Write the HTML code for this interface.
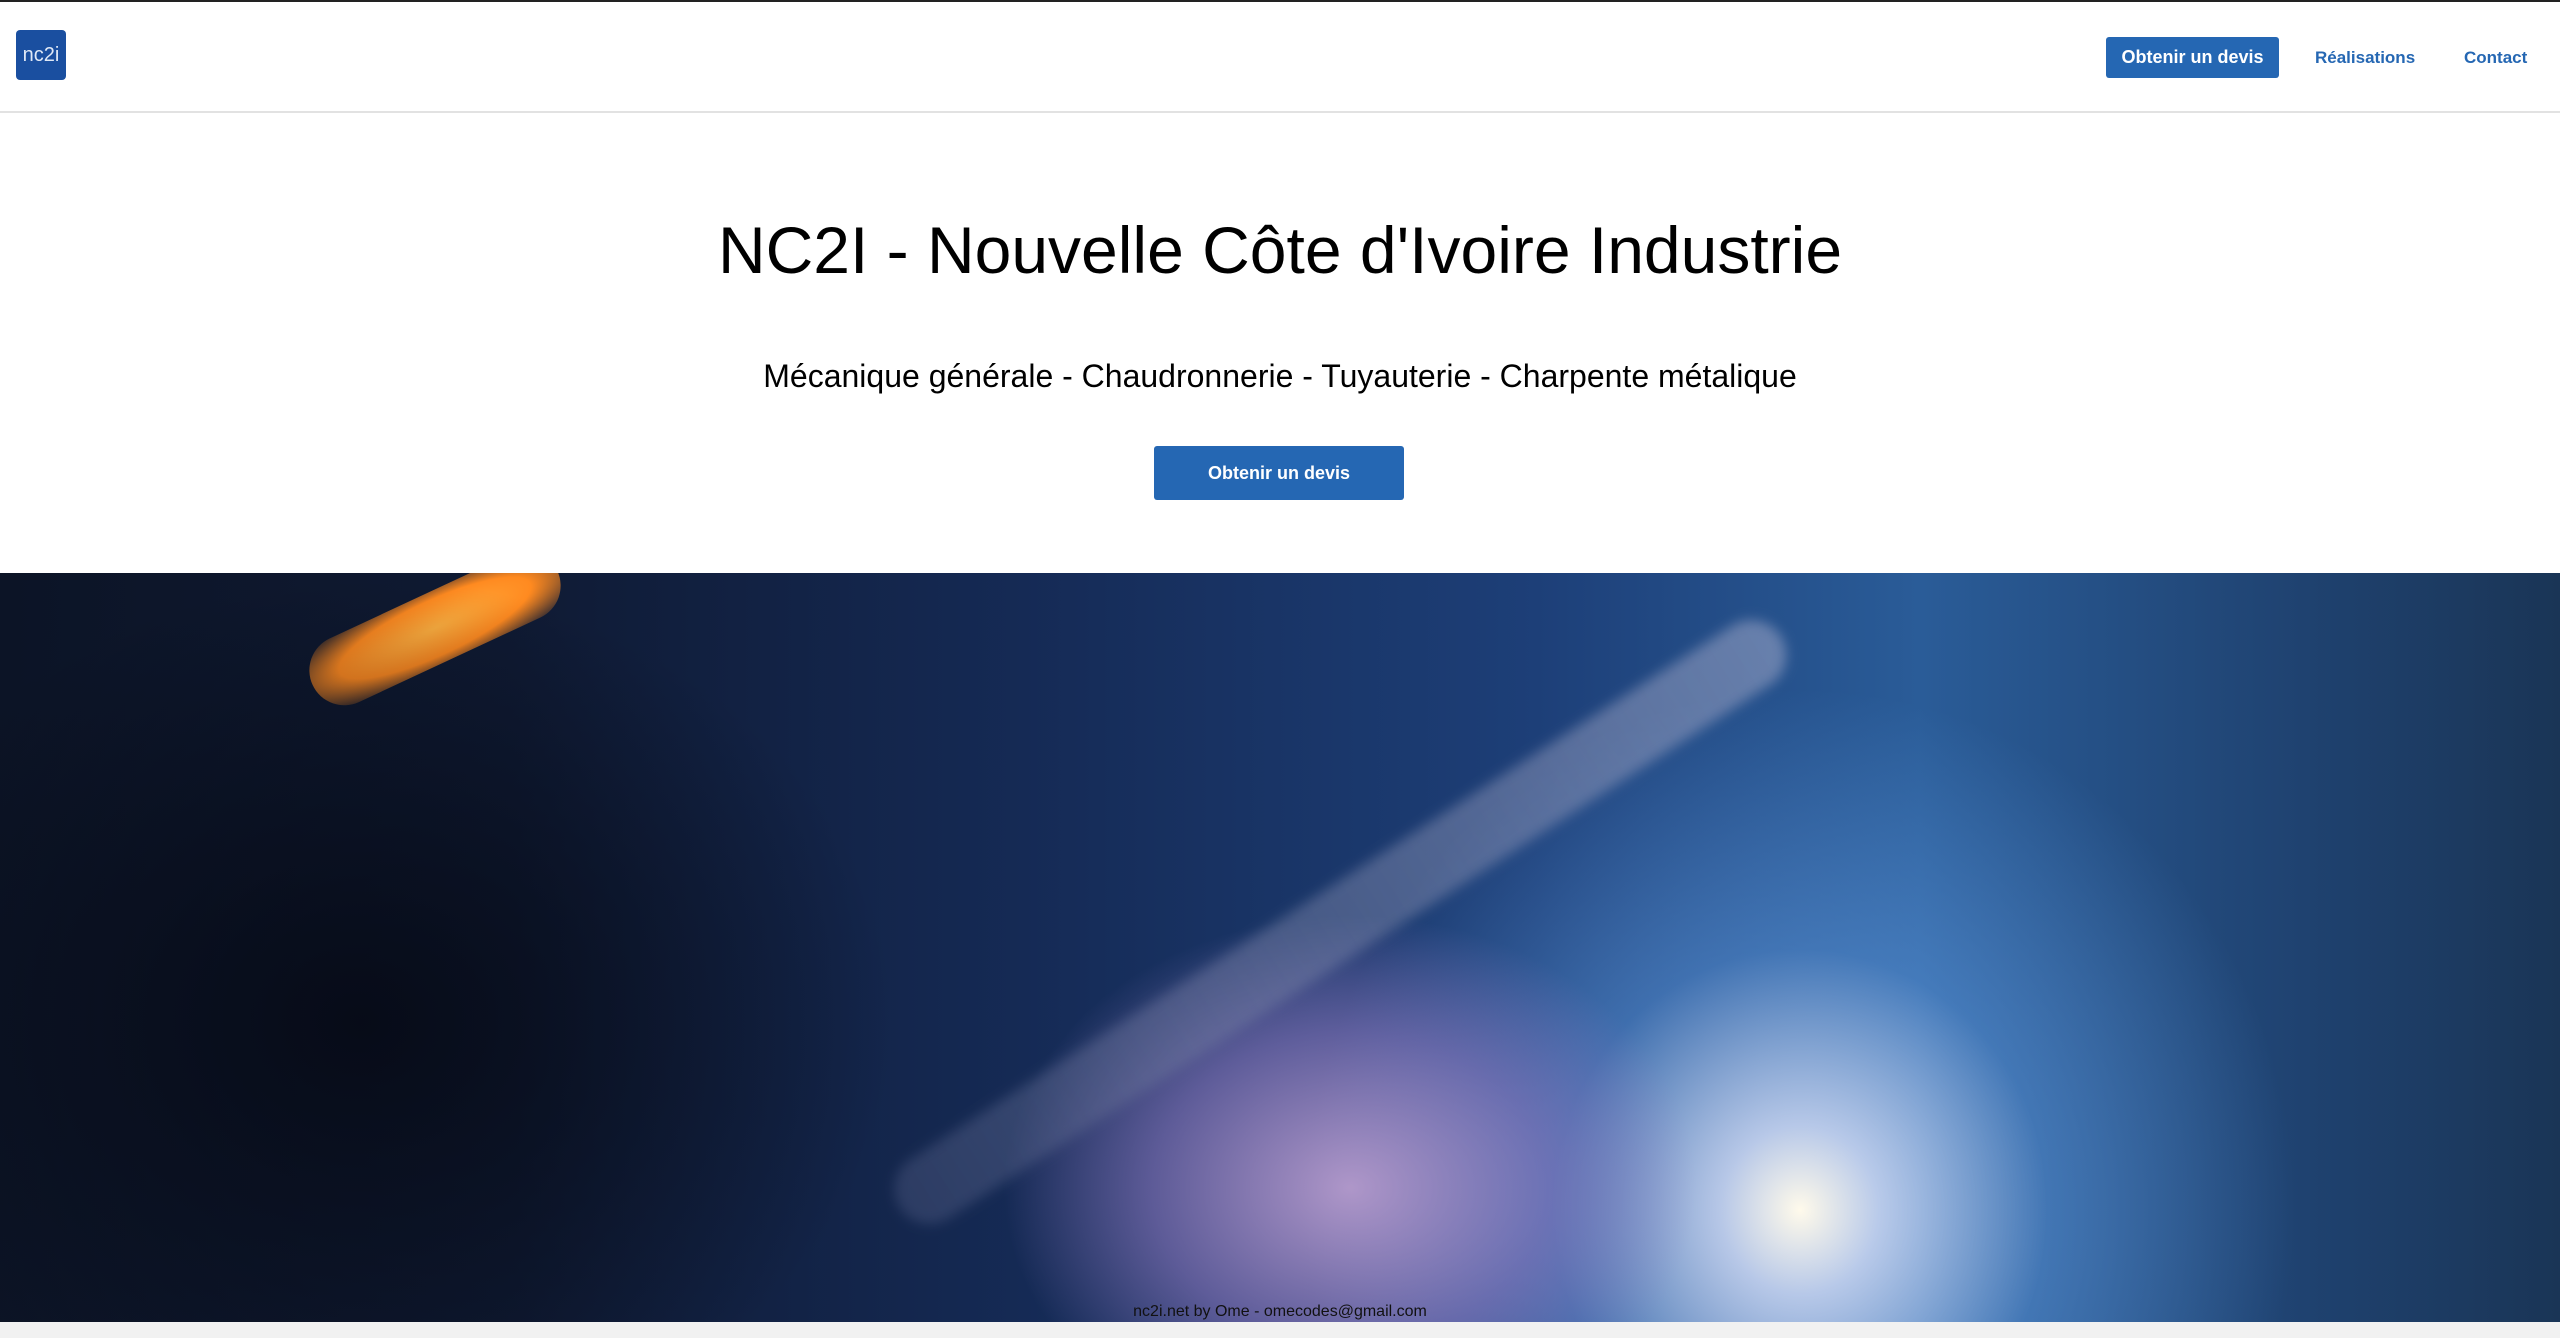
<!DOCTYPE html>
<html style="width:2560px;height:1338px;overflow:hidden"><head><meta charset="utf-8"><style>
*{margin:0;padding:0;box-sizing:border-box}
body{width:2560px;height:1338px;overflow:hidden;background:#fff;font-family:"Liberation Sans",sans-serif;position:relative}
.abs{position:absolute}
</style></head><body>
<div class="abs" style="left:0;top:0;width:2560px;height:2px;background:#222"></div>
<header class="abs" style="left:0;top:2px;width:2560px;height:111px;border-bottom:2px solid #e2e2e2">
 <div class="abs" style="left:16px;top:28px;width:50px;height:50px;background:#1a4fa0;border-radius:4px;color:#dfe8f6;font-size:20px;line-height:50px;text-align:center">nc2i</div>
 <div class="abs" style="left:2106px;top:35px;width:173px;height:41px;background:#2567b3;border-radius:3px;color:#fff;font-weight:bold;font-size:18px;line-height:41px;text-align:center">Obtenir un devis</div>
 <div class="abs" style="left:2315px;top:35px;line-height:41px;color:#2567b3;font-size:17px;font-weight:bold">Réalisations</div>
 <div class="abs" style="left:2464px;top:35px;line-height:41px;color:#2567b3;font-size:17px;font-weight:bold">Contact</div>
</header>
<h1 class="abs" style="left:0;width:2560px;top:210px;text-align:center;font-weight:normal;font-size:66px;color:#000;line-height:80px">NC2I - Nouvelle Côte d'Ivoire Industrie</h1>
<p class="abs" style="left:0;width:2560px;top:356px;text-align:center;font-size:32px;color:#000;line-height:40px">Mécanique générale - Chaudronnerie - Tuyauterie - Charpente métalique</p>
<div class="abs" style="left:1154px;top:446px;width:250px;height:54px;background:#2567b3;border-radius:3px;color:#fff;font-weight:bold;font-size:18px;line-height:54px;text-align:center">Obtenir un devis</div>
<div class="abs" style="left:0;top:573px;width:2560px;height:749px;overflow:hidden;background:linear-gradient(90deg,#0c1426 0%,#0f1a33 20%,#152a55 40%,#1d3f78 60%,#2a5c98 75%,#1f4270 90%,#1a3556 100%)">
 <div class="abs" style="left:1100px;top:0;width:1400px;height:749px;background:radial-gradient(990px 1042px at 700px 637px,rgba(255,250,235,1) 0%,rgba(220,230,255,.8) 8%,rgba(100,160,230,.45) 25%,rgba(40,90,160,0) 50%)"></div>
 <div class="abs" style="left:1000px;top:340px;width:700px;height:409px;background:radial-gradient(495px 389px at 350px 275px,rgba(190,160,210,.9) 0%,rgba(140,120,190,.6) 40%,rgba(60,60,120,0) 70%)"></div>
 <div class="abs" style="left:300px;top:20px;width:270px;height:70px;border-radius:40px;transform:rotate(-25deg);background:radial-gradient(ellipse,#ffb040 0%,#ff8a20 55%,rgba(200,80,20,0) 100%)"></div>
 <div class="abs" style="left:900px;top:600px;width:1050px;height:70px;transform:rotate(-33deg);transform-origin:left;background:linear-gradient(90deg,rgba(90,100,140,.35),rgba(170,175,205,.5));border-radius:35px;filter:blur(6px)"></div>
 <div class="abs" style="left:0;top:0;width:900px;height:749px;background:radial-gradient(ellipse at 40% 60%,rgba(5,8,18,.8) 0%,rgba(10,15,30,0) 70%)"></div>
</div>
<div class="abs" style="left:0;width:2560px;top:1302px;text-align:center;font-size:16px;color:#111;line-height:20px">nc2i.net by Ome - omecodes@gmail.com</div>
<div class="abs" style="left:0;top:1322px;width:2560px;height:16px;background:#f1f1f1"></div>
</body></html>
